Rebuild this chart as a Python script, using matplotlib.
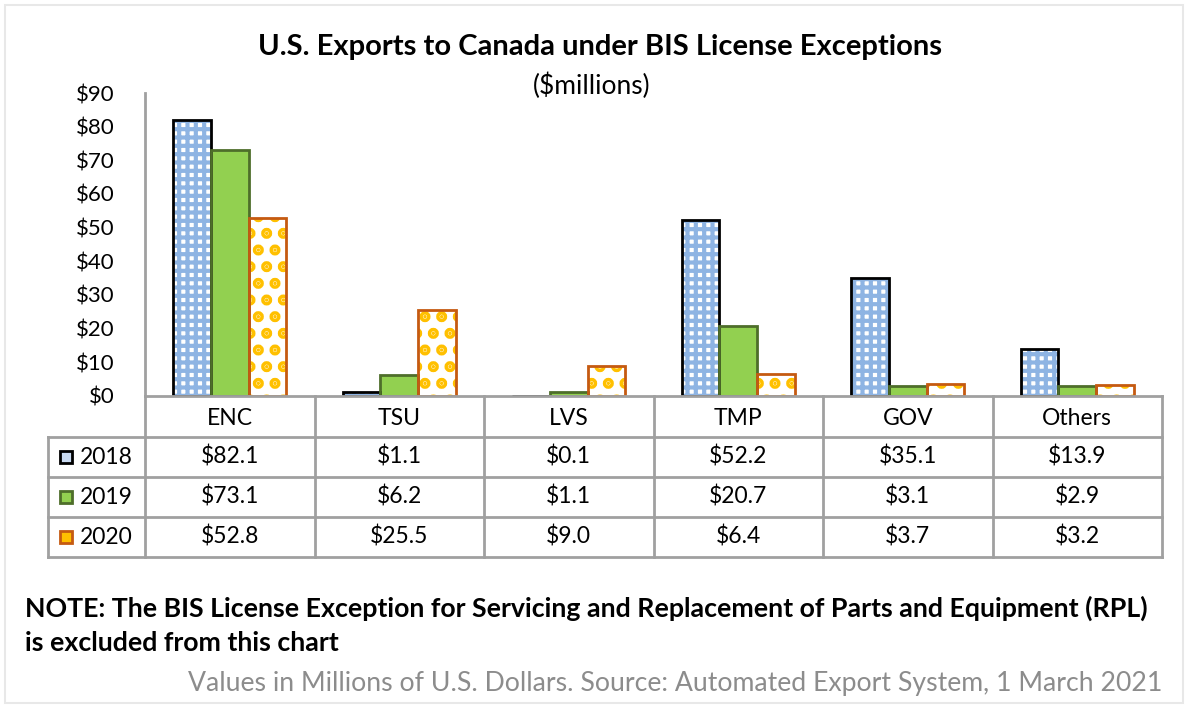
import matplotlib
matplotlib.use("Agg")
import matplotlib.pyplot as plt
from matplotlib.transforms import blended_transform_factory
from matplotlib.patches import Rectangle
import numpy as np

categories = ["ENC", "TSU", "LVS", "TMP", "GOV", "Others"]
years = ["2018", "2019", "2020"]
v2018 = [82.1, 1.1, 0.1, 52.2, 35.1, 13.9]
v2019 = [73.1, 6.2, 1.1, 20.7, 3.1, 2.9]
v2020 = [52.8, 25.5, 9.0, 6.4, 3.7, 3.2]
series = [v2018, v2019, v2020]
yticks = [0, 10, 20, 30, 40, 50, 60, 70, 80, 90]
ytick_labels = ["$" + str(t) for t in yticks]

title = "U.S. Exports to Canada under BIS License Exceptions"
subtitle = "($millions)"
note1 = "NOTE: The BIS License Exception for Servicing and Replacement of Parts and Equipment (RPL)"
note2 = "is excluded from this chart"
source = "Values in Millions of U.S. Dollars. Source: Automated Export System, 1 March 2021"

plt.rcParams['font.family'] = ['Lato', 'DejaVu Sans']

W, H = 1188, 708
fig = plt.figure(figsize=(W / 100, H / 100), dpi=100)

def fx(px):
    return px / W

def fy(py):
    return 1 - py / H

ax = fig.add_axes([fx(145), fy(396), fx(1162) - fx(145), fy(93) - fy(396)])
ax.set_xlim(-0.5, len(categories) - 0.5)
ax.set_ylim(0, 90)

grid_col = "#A0A0A0"
fills = ["white", "#92D050", "white"]
hatches = ["++", None, "."]
hatch_lws = [3.0, 1.0, 5.5]
hatch_cols = ["#8EB4E3", "#92D050", "#FFC000"]
edges = ["black", "#4E6E2A", "#C55A11"]
bw = 0.222
x = np.arange(len(categories))
for i, vals in enumerate(series):
    xs = x + (i - 1) * bw
    plt.rcParams['hatch.linewidth'] = hatch_lws[i]
    bars = ax.bar(xs, vals, width=bw, color=fills[i], hatch=hatches[i],
                  edgecolor=hatch_cols[i], linewidth=0, zorder=2)
    for b in bars:
        if hasattr(b, "set_hatch_linewidth"):
            b.set_hatch_linewidth(hatch_lws[i])
    ax.bar(xs, vals, width=bw, fill=False, edgecolor=edges[i],
           linewidth=2, zorder=3)

ax.set_yticks(yticks)
ax.set_yticklabels(ytick_labels, fontsize=16)
ax.tick_params(axis='y', length=0, pad=22)
ax.set_xticks([])
for s in ["top", "right", "bottom"]:
    ax.spines[s].set_visible(False)
ax.spines["left"].set_color(grid_col)
ax.spines["left"].set_linewidth(2)

# Table
tr = blended_transform_factory(ax.transData, fig.transFigure)
row_y = [396, 437, 477, 517, 557]
lkw = dict(color=grid_col, linewidth=2, clip_on=False, solid_capstyle='projecting')
fig.add_artist(plt.Line2D([fx(145), fx(1162)], [fy(396), fy(396)], transform=fig.transFigure, **lkw))
for ry in row_y[1:]:
    fig.add_artist(plt.Line2D([fx(48), fx(1162)], [fy(ry), fy(ry)], transform=fig.transFigure, **lkw))
fig.add_artist(plt.Line2D([fx(145), fx(145)], [fy(396), fy(557)], transform=fig.transFigure, **lkw))
fig.add_artist(plt.Line2D([fx(48), fx(48)], [fy(437), fy(557)], transform=fig.transFigure, **lkw))
for b in np.arange(0.5, len(categories) + 0.5, 1.0):
    fig.add_artist(plt.Line2D([b, b], [fy(396), fy(557)], transform=tr, **lkw))

tfs = 16.5
for j, c in enumerate(categories):
    fig.text(j, fy(418), c, transform=tr, ha='center', va='center', fontsize=tfs)
for i, vals in enumerate(series):
    cy = (row_y[i + 1] + row_y[i + 2]) / 2
    for j, v in enumerate(vals):
        fig.text(j, fy(cy), "${:.1f}".format(v), transform=tr, ha='center', va='center', fontsize=tfs)
    key_fc = ["#C9DAF1", "#92D050", "#FFC000"][i]
    fig.add_artist(Rectangle((fx(60), fy(cy + 6)), fx(12), fy(cy - 6) - fy(cy + 6),
                             transform=fig.transFigure, facecolor=key_fc,
                             edgecolor=edges[i], linewidth=2))
    fig.text(fx(80), fy(cy), years[i], ha='left', va='center', fontsize=tfs)

fig.text(fx(600), fy(47), title, ha='center', va='center', fontsize=21, fontweight='bold')
fig.text(fx(592), fy(86), subtitle, ha='center', va='center', fontsize=19)
fig.text(fx(25), fy(608), note1, ha='left', va='center', fontsize=19.3, fontweight='bold')
fig.text(fx(25), fy(643), note2, ha='left', va='center', fontsize=19.3, fontweight='bold')
fig.text(fx(1162), fy(683), source, ha='right', va='center', fontsize=19.2, color="#8C8C8C")

fig.add_artist(Rectangle((fx(5), fy(703)), fx(1178), fy(5) - fy(703), transform=fig.transFigure,
                         fill=False, edgecolor="#E8E8E8", linewidth=1.5))

fig.savefig("out.png", dpi=100)
